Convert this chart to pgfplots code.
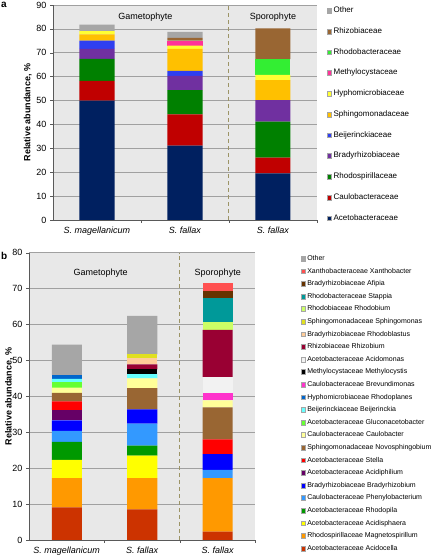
\documentclass[border=0pt]{standalone}
\usepackage{fontspec}
\setmainfont{Liberation Sans}
\usepackage{pgfplots}
\usepackage{pgfplotstable}
\pgfplotsset{compat=1.18}

% panel a colours
\definecolor{aAceto}{HTML}{002060}
\definecolor{aCaulo}{HTML}{C00000}
\definecolor{aRspir}{HTML}{008000}
\definecolor{aBrady}{HTML}{7030A0}
\definecolor{aBeij}{HTML}{2F3FF0}
\definecolor{aSphingo}{HTML}{FFC000}
\definecolor{aHypho}{HTML}{FFFF33}
\definecolor{aMethylo}{HTML}{FF3399}
\definecolor{aRbac}{HTML}{33EE33}
\definecolor{aRhizo}{HTML}{996633}
\definecolor{aOther}{HTML}{A6A6A6}
% panel b colours
\definecolor{bAcidocella}{HTML}{CC3300}
\definecolor{bMagneto}{HTML}{FF9900}
\definecolor{bAcidisph}{HTML}{FFFF00}
\definecolor{bRhodopila}{HTML}{009900}
\definecolor{bPhenylo}{HTML}{3399FF}
\definecolor{bBradyrh}{HTML}{0000FF}
\definecolor{bAcidiph}{HTML}{660066}
\definecolor{bStella}{HTML}{FF0000}
\definecolor{bNovosph}{HTML}{996633}
\definecolor{bCaulob}{HTML}{FFFF99}
\definecolor{bGlucon}{HTML}{66FF33}
\definecolor{bBeijer}{HTML}{66FFFF}
\definecolor{bRhodopl}{HTML}{0066CC}
\definecolor{bBrevund}{HTML}{FF33CC}
\definecolor{bMethylo}{HTML}{000000}
\definecolor{bAcidom}{HTML}{F2F2F2}
\definecolor{bRhizob}{HTML}{990033}
\definecolor{bRhodobl}{HTML}{FFCC99}
\definecolor{bSphingom}{HTML}{E0E020}
\definecolor{bRhodobium}{HTML}{CCFF66}
\definecolor{bStappia}{HTML}{009999}
\definecolor{bAfipia}{HTML}{663300}
\definecolor{bXantho}{HTML}{FF5050}
\definecolor{bOther}{HTML}{A6A6A6}
\definecolor{plotbg}{HTML}{E8E8E8}
\definecolor{gridc}{HTML}{A0A0A0}
\definecolor{dashc}{HTML}{9C9466}

\pgfplotstableread{
x Aceto Caulo Rspir Brady Beij Sphingo Hypho Methylo Rbac Rhizo Other
1 50.0 8.2 9.3 4.1 3.5 2.6 1.4 0 0 0 2.7
2 31.1 13.1 10.2 5.9 2.1 9.2 1.4 2.1 0 1.1 2.6
3 19.5 6.6 15.1 9.0 0 8.4 2.1 0 6.6 12.9 0
}\tabA

\pgfplotstableread{
x Acidocella Magneto Acidisph Rhodopila Phenylo Bradyrh Acidiph Stella Novosph Caulob Glucon Beijer Rhodopl Brevund Methylo Acidom Rhizob Rhodobl Sphingom Rhodobium Stappia Afipia Xantho Other
1 9.1 8.1 5.1 5.0 3.1 2.9 2.9 2.4 2.4 1.4 1.5 1.0 1.1 0 0 0 0 0 0 0 0 0 0 8.4
2 8.5 8.7 6.3 2.8 6.1 4.0 0 0 5.9 2.7 0 1.2 0 0 1.3 0 1.4 1.7 1.1 0 0 0 0 10.7
3 2.3 14.9 0 0 2.3 4.4 0 4.1 8.9 2.0 0 0 0 2.1 0 4.4 13.1 0 0 2.1 6.7 2.1 2.3 0
}\tabB

\newcommand\fa{\fontsize{9}{10.5}\selectfont}

\pgfplotsset{
  common/.style={
    scale only axis,
    anchor=south west,
    ybar stacked,
    xmin=0.5, xmax=3.5,
    ymin=0,
    ytick distance=10,
    xtick={1,2,3},
    minor xtick={1.5,2.5,3.5},
    major x tick style={draw=none},
    minor tick length=3pt,
    major tick length=3pt,
    tick align=outside,
    axis x line*=bottom,
    axis y line*=left,
    axis line style={black!65},
    every tick/.style={black!65},
    ymajorgrids,
    grid style={gridc, line width=0.6pt},
    axis background/.style={fill=plotbg},
    tick label style={font=\fa},
    xticklabel style={font=\fa\itshape},
    /pgf/number format/assume math mode=true,
    ylabel={Relative abundance, \%},
    ylabel style={font=\fa\bfseries},
    legend reversed,
    legend cell align=left,
    legend image code/.code={\filldraw[##1, draw=black!35, line width=0.3pt] (0pt,-2.4pt) rectangle (4.8pt,2.4pt);},
  },
}

\begin{document}
\begin{tikzpicture}
\path[use as bounding box] (0,0) rectangle (432pt,557pt);

% ---------- panel a ----------
\begin{axis}[common,
  at={(53pt,337pt)},
  width=264pt, height=215pt,
  bar width=35pt,
  ymax=90,
  xticklabels={S. magellanicum, S. fallax, S. fallax},
  ylabel style={at={(axis description cs:-0.095,0.5)}, anchor=center},
  legend style={at={(1.0246,1.0)}, anchor=north west, draw=none, fill=none,
    font=\fontsize{8}{9}\selectfont, row sep=13.95pt,
    nodes={inner xsep=1.8pt, inner ysep=0pt, text height=5.4pt, text depth=1.4pt}},
]
\addplot[fill=aAceto, draw=none] table[x=x, y=Aceto] {\tabA};
\addlegendentry{Acetobacteraceae}
\addplot[fill=aCaulo, draw=none] table[x=x, y=Caulo] {\tabA};
\addlegendentry{Caulobacteraceae}
\addplot[fill=aRspir, draw=none] table[x=x, y=Rspir] {\tabA};
\addlegendentry{Rhodospirillaceae}
\addplot[fill=aBrady, draw=none] table[x=x, y=Brady] {\tabA};
\addlegendentry{Bradyrhizobiaceae}
\addplot[fill=aBeij, draw=none] table[x=x, y=Beij] {\tabA};
\addlegendentry{Beijerinckiaceae}
\addplot[fill=aSphingo, draw=none] table[x=x, y=Sphingo] {\tabA};
\addlegendentry{Sphingomonadaceae}
\addplot[fill=aHypho, draw=none] table[x=x, y=Hypho] {\tabA};
\addlegendentry{Hyphomicrobiaceae}
\addplot[fill=aMethylo, draw=none] table[x=x, y=Methylo] {\tabA};
\addlegendentry{Methylocystaceae}
\addplot[fill=aRbac, draw=none] table[x=x, y=Rbac] {\tabA};
\addlegendentry{Rhodobacteraceae}
\addplot[fill=aRhizo, draw=none] table[x=x, y=Rhizo] {\tabA};
\addlegendentry{Rhizobiaceae}
\addplot[fill=aOther, draw=none] table[x=x, y=Other] {\tabA};
\addlegendentry{Other}
\draw[dashc, line width=1pt, dash pattern=on 4pt off 3pt] (axis cs:2.5,0) -- (axis cs:2.5,90);
\node[font=\fa] at (axis cs:1.55,85) {Gametophyte};
\node[font=\fa] at (axis cs:3,85) {Sporophyte};
\end{axis}

% ---------- panel b ----------
\begin{axis}[common,
  at={(29pt,17pt)},
  width=226.5pt, height=287.3pt,
  bar width=30pt,
  ymax=80,
  xticklabels={S. magellanicum, S. fallax, S. fallax},
  ylabel style={at={(axis description cs:-0.088,0.5)}, anchor=center},
  legend style={at={(1.185,0.998)}, anchor=north west, draw=none, fill=none,
    font=\fontsize{7}{7.5}\selectfont, row sep=6.4pt,
    nodes={inner xsep=1.6pt, inner ysep=0pt, text height=5pt, text depth=1.2pt}},
]
\addplot[fill=bAcidocella, draw=none] table[x=x, y=Acidocella] {\tabB};
\addlegendentry{Acetobacteraceae Acidocella}
\addplot[fill=bMagneto, draw=none] table[x=x, y=Magneto] {\tabB};
\addlegendentry{Rhodospirillaceae Magnetospirillum}
\addplot[fill=bAcidisph, draw=none] table[x=x, y=Acidisph] {\tabB};
\addlegendentry{Acetobacteraceae Acidisphaera}
\addplot[fill=bRhodopila, draw=none] table[x=x, y=Rhodopila] {\tabB};
\addlegendentry{Acetobacteraceae Rhodopila}
\addplot[fill=bPhenylo, draw=none] table[x=x, y=Phenylo] {\tabB};
\addlegendentry{Caulobacteraceae Phenylobacterium}
\addplot[fill=bBradyrh, draw=none] table[x=x, y=Bradyrh] {\tabB};
\addlegendentry{Bradyrhizobiaceae Bradyrhizobium}
\addplot[fill=bAcidiph, draw=none] table[x=x, y=Acidiph] {\tabB};
\addlegendentry{Acetobacteraceae Acidiphilium}
\addplot[fill=bStella, draw=none] table[x=x, y=Stella] {\tabB};
\addlegendentry{Acetobacteraceae Stella}
\addplot[fill=bNovosph, draw=none] table[x=x, y=Novosph] {\tabB};
\addlegendentry{Sphingomonadaceae Novosphingobium}
\addplot[fill=bCaulob, draw=none] table[x=x, y=Caulob] {\tabB};
\addlegendentry{Caulobacteraceae Caulobacter}
\addplot[fill=bGlucon, draw=none] table[x=x, y=Glucon] {\tabB};
\addlegendentry{Acetobacteraceae Gluconacetobacter}
\addplot[fill=bBeijer, draw=none] table[x=x, y=Beijer] {\tabB};
\addlegendentry{Beijerinckiaceae Beijerinckia}
\addplot[fill=bRhodopl, draw=none] table[x=x, y=Rhodopl] {\tabB};
\addlegendentry{Hyphomicrobiaceae Rhodoplanes}
\addplot[fill=bBrevund, draw=none] table[x=x, y=Brevund] {\tabB};
\addlegendentry{Caulobacteraceae Brevundimonas}
\addplot[fill=bMethylo, draw=none] table[x=x, y=Methylo] {\tabB};
\addlegendentry{Methylocystaceae Methylocystis}
\addplot[fill=bAcidom, draw=none] table[x=x, y=Acidom] {\tabB};
\addlegendentry{Acetobacteraceae Acidomonas}
\addplot[fill=bRhizob, draw=none] table[x=x, y=Rhizob] {\tabB};
\addlegendentry{Rhizobiaceae Rhizobium}
\addplot[fill=bRhodobl, draw=none] table[x=x, y=Rhodobl] {\tabB};
\addlegendentry{Bradyrhizobiaceae Rhodoblastus}
\addplot[fill=bSphingom, draw=none] table[x=x, y=Sphingom] {\tabB};
\addlegendentry{Sphingomonadaceae Sphingomonas}
\addplot[fill=bRhodobium, draw=none] table[x=x, y=Rhodobium] {\tabB};
\addlegendentry{Rhodobiaceae Rhodobium}
\addplot[fill=bStappia, draw=none] table[x=x, y=Stappia] {\tabB};
\addlegendentry{Rhodobacteraceae Stappia}
\addplot[fill=bAfipia, draw=none] table[x=x, y=Afipia] {\tabB};
\addlegendentry{Bradyrhizobiaceae Afipia}
\addplot[fill=bXantho, draw=none] table[x=x, y=Xantho] {\tabB};
\addlegendentry{Xanthobacteraceae Xanthobacter}
\addplot[fill=bOther, draw=none] table[x=x, y=Other] {\tabB};
\addlegendentry{Other}
\draw[dashc, line width=1pt, dash pattern=on 4pt off 3pt] (axis cs:2.5,0) -- (axis cs:2.5,80);
\node[font=\fa] at (axis cs:1.45,74.3) {Gametophyte};
\node[font=\fa] at (axis cs:3,74.3) {Sporophyte};
\end{axis}

\node[anchor=north west, font=\fontsize{10}{11}\selectfont\bfseries, inner sep=0pt] at (1pt,555pt) {a};
\node[anchor=north west, font=\fontsize{10}{11}\selectfont\bfseries, inner sep=0pt] at (1pt,305pt) {b};
\end{tikzpicture}
\end{document}
